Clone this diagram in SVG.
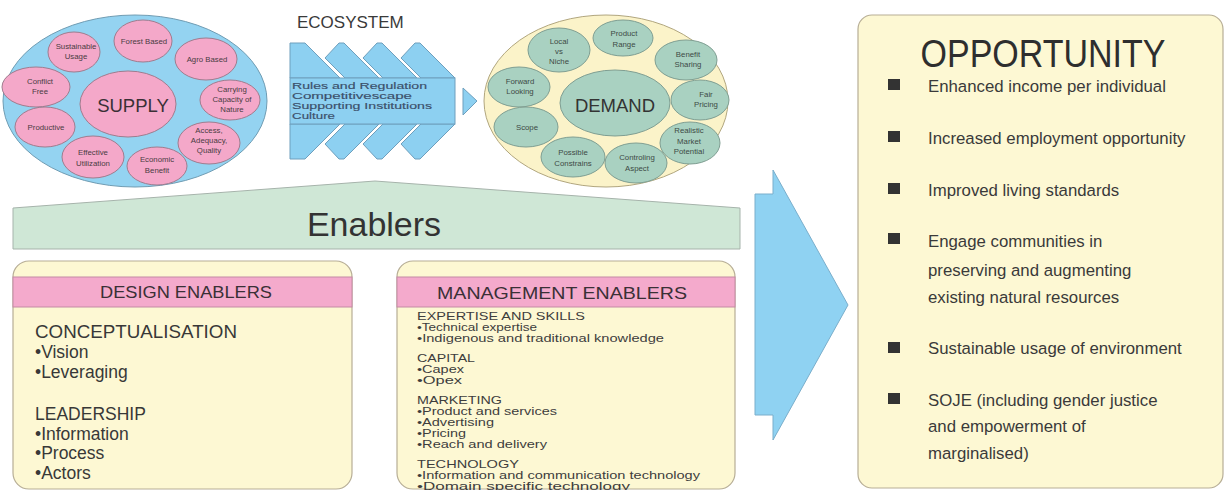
<svg xmlns="http://www.w3.org/2000/svg" width="1225" height="490" viewBox="0 0 1225 490">
<style>
text{font-family:"Liberation Sans",Arial,"DejaVu Sans",sans-serif;fill:#363636}
.sup{fill:#94d3f1;stroke:#6f9cb3;stroke-width:1}
.pk{fill:#f4a8c9;stroke:#9f7c8e;stroke-width:1}
.dem{fill:#fbf3c9;stroke:#b1a67e;stroke-width:1}
.gr{fill:#a9d1c1;stroke:#7f9e92;stroke-width:1}
.fb{fill:#8dd0f1;stroke:#6e9fbd;stroke-width:1}
.box{fill:#fdf8d3;stroke:#b7ae96;stroke-width:1.2}
.hdr{fill:#f4aacc;stroke:#c48aa5;stroke-width:1}
.sm{font-size:7.8px;text-anchor:middle;fill:#4a3c42}
.smg{font-size:7.8px;text-anchor:middle;fill:#3d4a45}
.big{font-size:18.5px;text-anchor:middle;fill:#3a3036}
.eco{font-size:9.5px;fill:#3b4f6a;stroke:#3b4f6a;stroke-width:0.15}
.mg{font-size:11px;fill:#3d3d3d}
.de{font-size:17.5px;fill:#383838}
.op{font-size:16.8px;fill:#3a3a3a}
.blt{fill:#333}
</style>

<g id="supply">
<ellipse class="sup" cx="135" cy="101" rx="132" ry="86"/>
<ellipse class="pk" cx="128" cy="104" rx="48" ry="33"/>
<text class="big" x="133" y="112">SUPPLY</text>
<ellipse class="pk" cx="74" cy="52" rx="26" ry="20"/>
<text class="sm" x="76" y="49">Sustainable</text><text class="sm" x="76" y="59">Usage</text>
<ellipse class="pk" cx="143" cy="41" rx="29" ry="21"/>
<text class="sm" x="144" y="44">Forest Based</text>
<ellipse class="pk" cx="206" cy="59" rx="31" ry="21"/>
<text class="sm" x="207" y="62">Agro Based</text>
<ellipse class="pk" cx="36" cy="87" rx="34" ry="20"/>
<text class="sm" x="40" y="84">Conflict</text><text class="sm" x="40" y="94">Free</text>
<ellipse class="pk" cx="230" cy="100" rx="30" ry="20"/>
<text class="sm" x="232" y="92">Carrying</text><text class="sm" x="232" y="102">Capacity of</text><text class="sm" x="232" y="112">Nature</text>
<ellipse class="pk" cx="45" cy="127" rx="30" ry="20"/>
<text class="sm" x="46" y="130">Productive</text>
<ellipse class="pk" cx="209" cy="143" rx="31" ry="21"/>
<text class="sm" x="209" y="133">Access,</text><text class="sm" x="209" y="143">Adequacy,</text><text class="sm" x="209" y="153">Quality</text>
<ellipse class="pk" cx="93" cy="157" rx="31" ry="21"/>
<text class="sm" x="93" y="155">Effective</text><text class="sm" x="93" y="166">Utilization</text>
<ellipse class="pk" cx="157" cy="166" rx="30" ry="19"/>
<text class="sm" x="157" y="162">Economic</text><text class="sm" x="157" y="173">Benefit</text>
</g>

<g id="ecosystem">
<text x="297" y="28" style="font-size:17px;fill:#3a3a3a">ECOSYSTEM</text>
<polygon class="fb" points="290,43 305,43 340,78 290,78"/>
<polygon class="fb" points="325,58 339,43 344,43 379,78 345,78"/>
<polygon class="fb" points="363,58 377,43 382,43 417,78 383,78"/>
<polygon class="fb" points="401,58 415,43 420,43 455,78 421,78"/>
<polygon class="fb" points="290,159 305,159 340,124 290,124"/>
<polygon class="fb" points="325,144 339,159 344,159 379,124 345,124"/>
<polygon class="fb" points="363,144 377,159 382,159 417,124 383,124"/>
<polygon class="fb" points="401,144 415,159 420,159 455,124 421,124"/>
<rect class="fb" x="290" y="78" width="165" height="46"/>
<text class="eco" x="292" y="89" textLength="135" lengthAdjust="spacingAndGlyphs">Rules and Regulation</text>
<text class="eco" x="292" y="99" textLength="120" lengthAdjust="spacingAndGlyphs">Competitivescape</text>
<text class="eco" x="292" y="109" textLength="140" lengthAdjust="spacingAndGlyphs">Supporting Institutions</text>
<text class="eco" x="292" y="119" textLength="43" lengthAdjust="spacingAndGlyphs">Culture</text>
</g>

<g id="demand">
<ellipse class="dem" cx="606" cy="101" rx="122" ry="86"/>
<ellipse class="gr" cx="615" cy="103" rx="55" ry="33"/>
<text class="big" x="615" y="112" style="fill:#333">DEMAND</text>
<ellipse class="gr" cx="559" cy="50" rx="31" ry="22"/>
<text class="smg" x="559" y="44">Local</text><text class="smg" x="559" y="54">vs</text><text class="smg" x="559" y="64">Niche</text>
<ellipse class="gr" cx="623" cy="38" rx="30" ry="18"/>
<text class="smg" x="624" y="36">Product</text><text class="smg" x="624" y="47">Range</text>
<ellipse class="gr" cx="686" cy="60" rx="31" ry="20"/>
<text class="smg" x="688" y="57">Benefit</text><text class="smg" x="688" y="67">Sharing</text>
<ellipse class="gr" cx="519" cy="87" rx="31" ry="20"/>
<text class="smg" x="520" y="84">Forward</text><text class="smg" x="520" y="94">Looking</text>
<ellipse class="gr" cx="700" cy="100" rx="29" ry="20"/>
<text class="smg" x="706" y="97">Fair</text><text class="smg" x="706" y="107">Pricing</text>
<ellipse class="gr" cx="526" cy="127" rx="32" ry="20"/>
<text class="smg" x="527" y="130">Scope</text>
<ellipse class="gr" cx="690" cy="143" rx="30" ry="21"/>
<text class="smg" x="689" y="133">Realistic</text><text class="smg" x="689" y="144">Market</text><text class="smg" x="689" y="154">Potential</text>
<ellipse class="gr" cx="573" cy="157" rx="32" ry="20"/>
<text class="smg" x="573" y="155">Possible</text><text class="smg" x="573" y="166">Constrains</text>
<ellipse class="gr" cx="636" cy="163" rx="31" ry="20"/>
<text class="smg" x="637" y="160">Controling</text><text class="smg" x="637" y="171">Aspect</text>
</g>

<g id="enablers">
<polygon points="13,208 375,181 740,208 740,249 13,249" style="fill:#cfe7d6;stroke:#a6b3ab;stroke-width:1"/>
<text x="374" y="236" style="font-size:34px;text-anchor:middle;fill:#333">Enablers</text>
</g>

<g id="design-enablers">
<rect class="box" x="13" y="261" width="339" height="228" rx="16"/>
<rect class="hdr" x="13" y="277" width="339" height="30"/>
<text x="186" y="298" style="font-size:17px;text-anchor:middle;fill:#3a3036" textLength="172" lengthAdjust="spacingAndGlyphs">DESIGN ENABLERS</text>
<text class="de" x="35" y="338" textLength="202" lengthAdjust="spacingAndGlyphs">CONCEPTUALISATION</text>
<text class="de" x="35" y="358">•Vision</text>
<text class="de" x="35" y="378">•Leveraging</text>
<text class="de" x="35" y="420">LEADERSHIP</text>
<text class="de" x="35" y="440">•Information</text>
<text class="de" x="35" y="459">•Process</text>
<text class="de" x="35" y="479">•Actors</text>
</g>

<g id="management-enablers">
<rect class="box" x="397" y="261" width="338" height="228" rx="16"/>
<rect class="hdr" x="397" y="277" width="338" height="30"/>
<text x="562" y="299" style="font-size:17px;text-anchor:middle;fill:#3a3036" textLength="250" lengthAdjust="spacingAndGlyphs">MANAGEMENT ENABLERS</text>
<text class="mg" x="417" y="320" textLength="168" lengthAdjust="spacingAndGlyphs">EXPERTISE AND SKILLS</text>
<text class="mg" x="417" y="331" textLength="120" lengthAdjust="spacingAndGlyphs">•Technical expertise</text>
<text class="mg" x="417" y="342" textLength="247" lengthAdjust="spacingAndGlyphs">•Indigenous and traditional knowledge</text>
<text class="mg" x="417" y="362" textLength="58" lengthAdjust="spacingAndGlyphs">CAPITAL</text>
<text class="mg" x="417" y="373" textLength="47" lengthAdjust="spacingAndGlyphs">•Capex</text>
<text class="mg" x="417" y="384" textLength="45" lengthAdjust="spacingAndGlyphs">•Opex</text>
<text class="mg" x="417" y="404" textLength="85" lengthAdjust="spacingAndGlyphs">MARKETING</text>
<text class="mg" x="417" y="415" textLength="140" lengthAdjust="spacingAndGlyphs">•Product and services</text>
<text class="mg" x="417" y="426" textLength="77" lengthAdjust="spacingAndGlyphs">•Advertising</text>
<text class="mg" x="417" y="437" textLength="49" lengthAdjust="spacingAndGlyphs">•Pricing</text>
<text class="mg" x="417" y="448" textLength="130" lengthAdjust="spacingAndGlyphs">•Reach and delivery</text>
<text class="mg" x="417" y="468" textLength="102" lengthAdjust="spacingAndGlyphs">TECHNOLOGY</text>
<text class="mg" x="417" y="479" textLength="283" lengthAdjust="spacingAndGlyphs">•Information and communication technology</text>
<text class="mg" x="417" y="490" textLength="213" lengthAdjust="spacingAndGlyphs">•Domain specific technology</text>
</g>

<g id="connectors">
<polygon class="fb" points="463,88 477,101 463,115"/>
<polygon points="773,170 848,305 773,440 773,415 755,415 755,194 773,194" style="fill:#8fd2f2;stroke:#7aaecb;stroke-width:1"/>
</g>

<g id="opportunity">
<rect class="box" x="858" y="15" width="365" height="473" rx="14"/>
<text x="1043" y="67" style="font-size:38px;text-anchor:middle;fill:#2e2e2e" textLength="245" lengthAdjust="spacingAndGlyphs">OPPORTUNITY</text>
<rect class="blt" x="888" y="79" width="12" height="11"/>
<text class="op" x="928" y="92">Enhanced income per individual</text>
<rect class="blt" x="888" y="131" width="12" height="11"/>
<text class="op" x="928" y="144">Increased employment opportunity</text>
<rect class="blt" x="888" y="183" width="12" height="11"/>
<text class="op" x="928" y="196">Improved living standards</text>
<rect class="blt" x="888" y="233" width="12" height="11"/>
<text class="op" x="928" y="247">Engage communities  in</text>
<text class="op" x="928" y="276">preserving and augmenting</text>
<text class="op" x="928" y="303">existing natural resources</text>
<rect class="blt" x="888" y="342" width="12" height="11"/>
<text class="op" x="928" y="354">Sustainable usage of environment</text>
<rect class="blt" x="888" y="393" width="12" height="11"/>
<text class="op" x="928" y="406">SOJE (including gender justice</text>
<text class="op" x="928" y="432">and empowerment of</text>
<text class="op" x="928" y="459">marginalised)</text>
</g>
</svg>
